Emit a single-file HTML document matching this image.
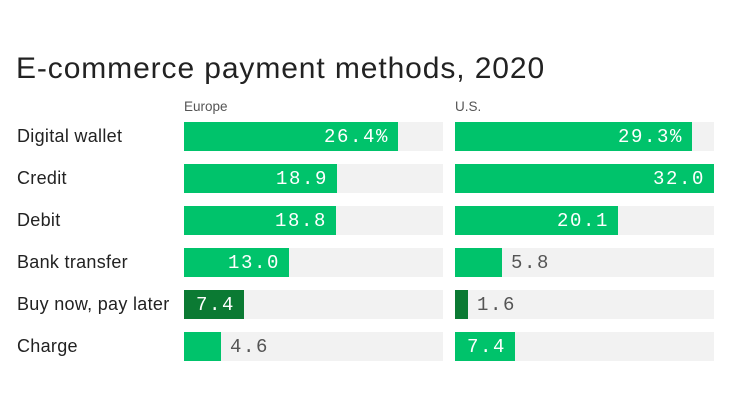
<!DOCTYPE html>
<html><head><style>
body{margin:0;width:735px;height:400px;background:#fff;position:relative;overflow:hidden;font-family:"Liberation Sans",sans-serif}
.t{position:absolute;left:16px;top:52px;font-size:30px;color:#222;letter-spacing:0.9px}
.h{position:absolute;top:99px;font-size:13.5px;color:#555}
.l{position:absolute;left:17px;font-size:18px;color:#222;line-height:29px;letter-spacing:0.3px}
.bg{position:absolute;height:29px;width:259px;background:#f2f2f2}
.b{position:absolute;left:0;top:0;height:29px;background:#00c36b}
.v{position:absolute;top:1px;line-height:29px;font-family:"Liberation Mono",monospace;font-size:19px;letter-spacing:1.6px}
.in{color:#fff;text-align:right}
.out{color:#555}
</style></head><body>
<div class="t">E-commerce payment methods, 2020</div>
<div class="h" style="left:184px">Europe</div>
<div class="h" style="left:455px">U.S.</div>
<div id="c"></div>
<script>
var rows=[["Digital wallet",26.4,29.3,"26.4%","29.3%"],["Credit",18.9,32.0,"18.9","32.0"],["Debit",18.8,20.1,"18.8","20.1"],["Bank transfer",13.0,5.8,"13.0","5.8"],["Buy now, pay later",7.4,1.6,"7.4","1.6"],["Charge",4.6,7.4,"4.6","7.4"]];
var h="";
rows.forEach(function(r,i){var y=122+i*42;
h+='<div class="l" style="top:'+y+'px">'+r[0]+'</div>';
[[184,r[1],r[3]],[455,r[2],r[4]]].forEach(function(c){
var w=Math.round(c[1]/32*259);var col=i==4?'#0b7a33':'#00c36b';
h+='<div class="bg" style="left:'+c[0]+'px;top:'+y+'px"><div class="b" style="width:'+w+'px;background:'+col+'"></div>';
if(w>55)h+='<div class="v in" style="left:0;width:'+(w-9)+'px">'+c[2]+'</div>';
else h+='<div class="v out" style="left:'+(w+9)+'px">'+c[2]+'</div>';
h+='</div>';});});
document.getElementById('c').innerHTML=h;
</script>
</body></html>
